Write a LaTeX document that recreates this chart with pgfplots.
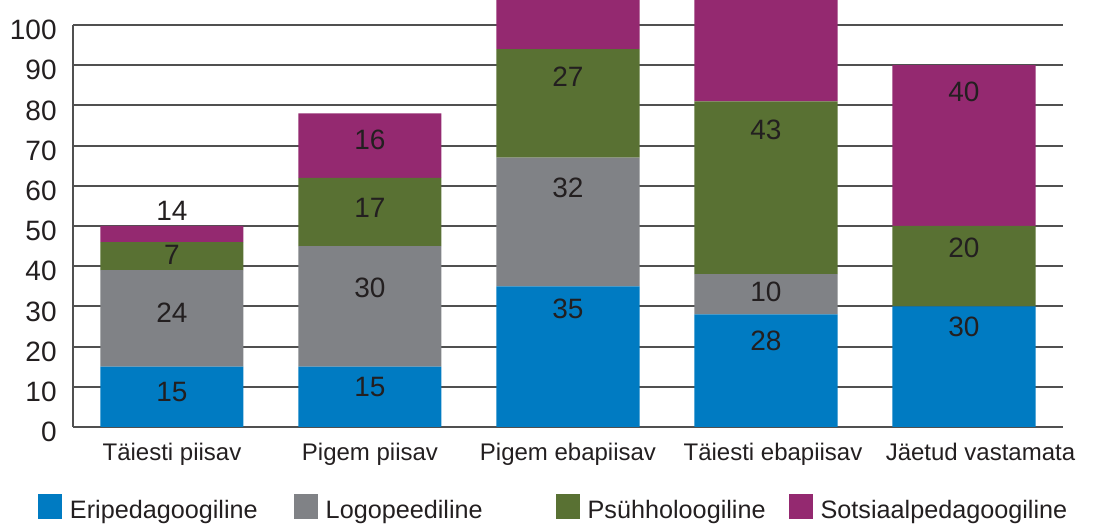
\documentclass[border=0pt]{standalone}
\usepackage{pgfplots}
\usepackage{pgfplotstable}
\pgfplotsset{compat=1.18}
\usepackage{fontspec}
\setmainfont{Liberation Sans}

\definecolor{cBlue}{RGB}{0,123,194}
\definecolor{cGray}{RGB}{128,130,134}
\definecolor{cGreen}{RGB}{89,113,51}
\definecolor{cPurple}{RGB}{148,41,112}
\definecolor{cText}{RGB}{35,31,32}
\definecolor{cGrid}{RGB}{80,80,80}

% stacked segment heights
\pgfplotstableread{
x blue gray green purple
0 15 24  7  4
1 15 30 17 16
2 35 32 27 14
3 28 10 43 29
4 30  0 20 40
}\bars

% printed values and where they sit
\pgfplotstableread{
x y lab
0 8.7 15
0 28.4 24
0 42.8 7
0 53.7 14
1 9.95 15
1 34.7 30
1 54.4 17
1 71.4 16
2 29.5 35
2 59.4 32
2 87.1 27
3 21.4 28
3 33.5 10
3 74.0 43
4 24.9 30
4 44.6 20
4 83.4 40
}\labels

\begin{document}
\begin{tikzpicture}
\begin{axis}[
    at={(36.5pt,48.5pt)}, anchor=south west,
    scale only axis, width=495pt, height=213.5pt,
    xmin=-0.5, xmax=4.5, ymin=0, ymax=106.22,
    ybar stacked, bar width=71.5pt,
    clip mode=individual,
    axis x line*=bottom, axis y line*=left,
    y axis line style={draw=none},
    x axis line style={cGrid, line width=1pt},
    tick align=inside,
    ytick={0,10,...,100},
    ymajorgrids=true,
    grid style={cGrid, line width=1pt},
    ytick style={draw=none},
    /pgf/number format/assume math mode=true,
    yticklabel style={font=\fontsize{14}{16}\selectfont, text=cText,
        anchor=east, inner sep=0pt, xshift=-8pt, yshift=-2.5pt},
    xtick={0,1,2,3,4},
    xticklabels={T\"aiesti piisav, Pigem piisav, Pigem ebapiisav,
        \hspace*{7pt}T\"aiesti ebapiisav, \hspace*{16.5pt}J\"aetud vastamata},
    xtick style={draw=none},
    xticklabel style={font=\fontsize{12}{14}\selectfont, text=cText,
        anchor=base, inner sep=0pt, yshift=-17pt},
    extra x ticks={0.5,1.5,2.5,3.5,4.5},
    extra x tick labels={},
    extra x tick style={major tick length=4pt,
        tick style={draw=cGrid, line width=1pt}},
    legend columns=4,
    legend image code/.code={\fill[#1] (0pt,-0.5pt) rectangle (12pt,12pt);},
    legend style={at={(-0.03535,-0.1889)}, anchor=west,
        draw=none, fill=none, inner sep=0pt, outer sep=0pt,
        column sep=0pt,
        font=\fontsize{12.6}{15}\selectfont, text=cText,
        nodes={anchor=base west, inner sep=0pt},
        /tikz/every odd column/.append style={column sep=4pt}},
]
\addplot[fill=cBlue, draw=none] table[x=x, y=blue] {\bars};
\addplot[fill=cGray, draw=none] table[x=x, y=gray] {\bars};
\addplot[fill=cGreen, draw=none] table[x=x, y=green] {\bars};
\addplot[fill=cPurple, draw=none] table[x=x, y=purple] {\bars};
\addlegendentry{Eripedagoogiline\hspace*{18pt}}
\addlegendentry{Logopeediline\hspace*{36.5pt}}
\addlegendentry{Ps\"uhholoogiline\hspace*{11.5pt}}
\addlegendentry{Sotsiaalpedagoogiline}
\draw[cGrid, line width=1pt] (axis cs:-0.5,0) -- (axis cs:-0.5,100);
\end{axis}

\begin{axis}[
    at={(36.5pt,48.5pt)}, anchor=south west,
    scale only axis, width=495pt, height=213.5pt,
    xmin=-0.5, xmax=4.5, ymin=0, ymax=106.22,
    hide axis, clip=false,
]
\addplot[draw=none, mark=none, nodes near coords,
    point meta=explicit symbolic,
    nodes near coords style={anchor=center, inner sep=0pt,
        font=\fontsize{14}{16}\selectfont, text=cText}]
    table[x=x, y=y, meta=lab] {\labels};
\end{axis}
\pgfresetboundingbox
\useasboundingbox (0pt,0pt) rectangle (557pt,262pt);
\end{tikzpicture}
\end{document}
